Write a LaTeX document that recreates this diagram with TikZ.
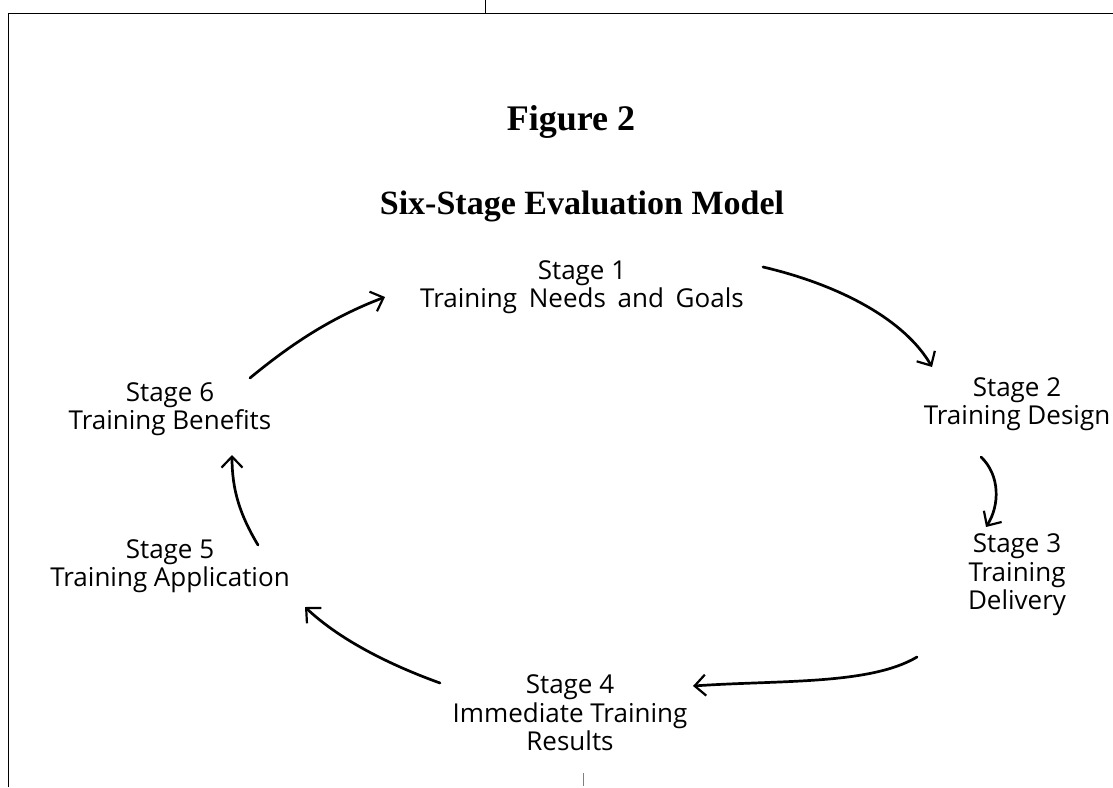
\documentclass[tikz,border=0pt]{standalone}
\usepackage{fontspec}
\setmainfont{Open Sans}
\newfontfamily\titlefont{Liberation Serif}
\usetikzlibrary{arrows.meta}
\begin{document}
\begin{tikzpicture}[x=1pt,y=-1pt,
  stagebox/.style={align=center,font=\fontsize{26}{28.5}\selectfont,inner sep=0pt},
  titlebox/.style={font=\titlefont\bfseries\fontsize{34}{38}\selectfont,inner sep=0pt},
  flow/.style={line width=2.7pt,line cap=round,-{Straight Barb[length=11pt,width=21pt,line width=2.2pt]}},
  frameline/.style={line width=1pt}]
\useasboundingbox (0,0) rectangle (1113,787);
% frame
\draw[frameline] (8,787) -- (8,13) -- (1113,13);
\draw[line width=0.6pt] (485,0) -- (485,13);
\draw[line width=0.6pt,gray] (583,773) -- (583,786);
% titles
\node[titlebox,font=\titlefont\bfseries\fontsize{36}{40}\selectfont] (fig) at (571,122) {Figure 2};
\node[titlebox] (ttl) at (582,206) {Six-Stage Evaluation Model};
% stages
\node[stagebox] (s1) at (582,287) {Stage 1\\{\spaceskip=0.45em plus 0.1em Training Needs and Goals}};
\node[stagebox] (s2) at (1017,404) {Stage 2\\Training Design};
\node[stagebox] (s3) at (1017,575) {Stage 3\\Training\\Delivery};
\node[stagebox] (s4) at (570,713) {Stage 4\\Immediate Training\\Results};
\node[stagebox] (s5) at (170,566) {Stage 5\\Training Application};
\node[stagebox] (s6) at (170,409) {Stage 6\\Training Benefits};
% arrows
\draw[flow] ([shift={(181,-20)}]s1.center) .. controls ([shift={(258,-2)}]s1.center) and ([shift={(323,33)}]s1.center) .. ([shift={(-85,-37)}]s2.center);
\draw[flow] ([shift={(-36,53)}]s2.center) .. controls ([shift={(-17,71)}]s2.center) and ([shift={(-17,101)}]s2.center) .. ([shift={(-31,-48)}]s3.center);
\draw[flow] ([shift={(-100,82)}]s3.center) .. controls ([shift={(-147,110)}]s3.center) and ([shift={(-237,105)}]s3.center) .. ([shift={(123,-27)}]s4.center);
\draw[flow] ([shift={(-130,-30)}]s4.center) .. controls ([shift={(-180,-48)}]s4.center) and ([shift={(-230,-73)}]s4.center) .. ([shift={(135,41)}]s5.center);
\draw[flow] ([shift={(88,-21)}]s5.center) .. controls ([shift={(70,-51)}]s5.center) and ([shift={(62,-76)}]s5.center) .. ([shift={(62,46)}]s6.center);
\draw[flow] ([shift={(80,-31)}]s6.center) .. controls ([shift={(120,-64)}]s6.center) and ([shift={(160,-91)}]s6.center) .. ([shift={(-197,10)}]s1.center);
\end{tikzpicture}
\end{document}
